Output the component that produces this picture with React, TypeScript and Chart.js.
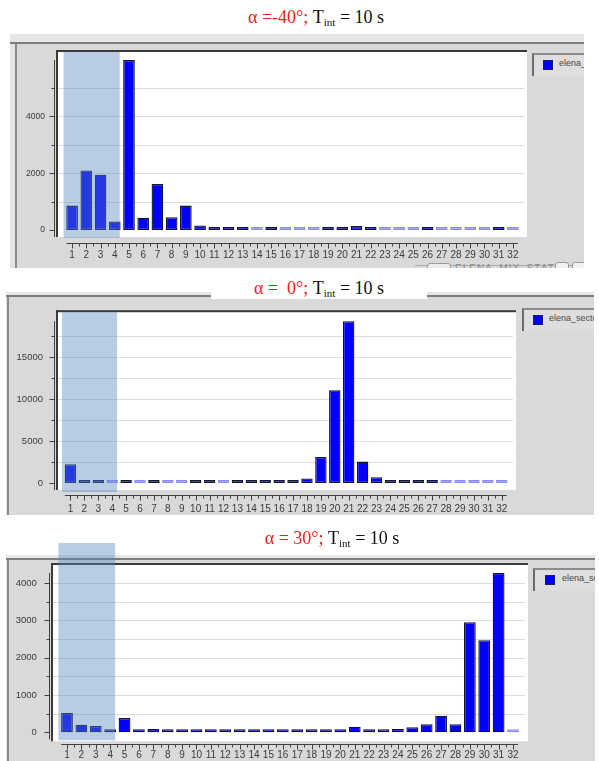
import React, { useEffect, useRef } from "react";
import { Chart, registerables } from "chart.js";

Chart.register(...registerables);

// ---------- data ----------
const SECTOR_LABELS = [
  "1", "2", "3", "4", "5", "6", "7", "8", "9", "10", "11", "12", "13", "14", "15", "16",
  "17", "18", "19", "20", "21", "22", "23", "24", "25", "26", "27", "28", "29", "30", "31", "32",
];
const SERIES_NAME = "elena_sectors";

// alpha = -40 deg
const COUNTS_M40 = [
  860, 2100, 1950, 300, 5990, 430, 1620, 450, 860, 160, 90, 40, 70, 0, 30, 0,
  0, 0, 30, 30, 140, 30, 0, 0, 0, 30, 0, 0, 0, 0, 30, 0,
];
// alpha = 0 deg
const COUNTS_0 = [
  2250, 40, 40, 0, 40, 0, 40, 0, 0, 40, 40, 0, 40, 40, 40, 200,
  300, 550, 3100, 11050, 19300, 2550, 680, 230, 230, 80, 80, 0, 0, 0, 0, 0,
];
// alpha = +30 deg
const COUNTS_P30 = [
  520, 205, 170, 10, 380, 10, 90, 10, 54, 10, 10, 10, 10, 10, 10, 10,
  10, 10, 10, 10, 150, 60, 60, 90, 135, 215, 445, 215, 2950, 2470, 4270, 0,
];

const TITLE_ANGLES = ["α =-40°;", "α =  0°;", "α = 30°;"];
const TITLE_TINT = ["T", "int", " = 10 s"];
const Y_LABEL_STEPS = [2000, 5000, 1000];
const Y_MINOR_STEPS = [1000, 2500, 500];
const HIGHLIGHT_FIRST = 0; // sector "1"
const HIGHLIGHT_LAST = 3; // sector "4"

// ---------- styles ----------
const PAGE_W = 599;
const SANS = "'Liberation Sans', Arial, sans-serif";
const SERIF = "'Liberation Serif', 'Times New Roman', serif";
const BAR_BLUE = "#0000ff";
const BAR_EDGE = "#14142a";
const EMPTY_BAR = "#8a8aff";
const SHADE = "rgba(86,134,190,0.42)";
const FRAME_GRAY = "#d9d9d9";

const PANELS = [
  {
    counts: COUNTS_M40, title: 0,
    titleX: 316, titleY: 17, titleBg: false,
    frame: { left: 10, top: 34, width: 574, height: 234, strip: 8, lineX: 5 },
    canvasTop: 30, canvasHeight: 240,
    area: { left: 65, right: 520, top: 60, bottom: 230 },
    white: { l: 8, r: 7, t: 8, b: 7 },
    shade: { t: 8, b: 8 },
    axisGap: 3, xAxisDrop: 13,
    yPad: 20, xPad: 19, yFont: 8.5, xFont: 10,
    legend: { left: 532, top: 53, sq: 11, tx: 27 },
    tab: true,
  },
  {
    counts: COUNTS_0, title: 1,
    titleX: 319, titleY: 288, titleBg: true,
    frame: { left: 6, top: 292, width: 588, height: 223, strip: 3, lineX: 1 },
    canvasTop: 295, canvasHeight: 220,
    area: { left: 63.5, right: 508.7, top: 314, bottom: 483 },
    white: { l: 6.5, r: 7.3, t: 9, b: 7 },
    shade: { t: 9, b: 9 },
    axisGap: 3, xAxisDrop: 12,
    yPad: 20.5, xPad: 20, yFont: 9.5, xFont: 10,
    legend: { left: 522, top: 308, sq: 11, tx: 27 },
    tab: false,
  },
  {
    counts: COUNTS_P30, title: 2,
    titleX: 332, titleY: 538, titleBg: false,
    frame: { left: 6, top: 555, width: 589, height: 206, strip: 3, lineX: 1 },
    canvasTop: 540, canvasHeight: 221,
    area: { left: 59.8, right: 520.2, top: 573, bottom: 733 },
    white: { l: 7.8, r: 7.8, t: 8, b: 9 },
    shade: { t: 30, b: 8 },
    axisGap: 3, xAxisDrop: 12,
    yPad: 23, xPad: 17, yFont: 9.5, xFont: 10,
    legend: { left: 533, top: 568, sq: 12, tx: 29 },
    tab: false,
  },
];

type PanelCfg = (typeof PANELS)[number];

function makeDeco(p: PanelCfg, labelStep: number, minorStep: number) {
  return {
    id: "panelDeco",
    beforeDraw(chart: any) {
      const { ctx, chartArea: a, scales } = chart;
      const x = scales.x;
      const y = scales.y;
      const wl = a.left - p.white.l;
      const wr = a.right + p.white.r;
      const wt = a.top - p.white.t;
      const wb = a.bottom + p.white.b;
      const axisX = Math.round(wl - p.axisGap) + 0.5;
      ctx.save();
      // white plot area
      ctx.fillStyle = "#ffffff";
      ctx.fillRect(wl, wt, wr - wl, wb - wt);
      // dotted grid lines on every minor step
      ctx.strokeStyle = "#bdbdbd";
      ctx.lineWidth = 1;
      ctx.setLineDash([1, 1]);
      for (let v = minorStep; v < y.max; v += minorStep) {
        const py = Math.round(y.getPixelForValue(v)) + 0.5;
        ctx.beginPath();
        ctx.moveTo(axisX, py);
        ctx.lineTo(wr - 3, py);
        ctx.stroke();
      }
      ctx.setLineDash([]);
      // inset border (top + left)
      ctx.fillStyle = "#3a3a3a";
      ctx.fillRect(wl - 1, wt - 2, wr - wl + 1, 2);
      ctx.fillRect(wl - 1, wt - 2, 2, wb - wt + 2);
      // y axis line and ticks
      ctx.strokeStyle = "#404040";
      ctx.lineWidth = 1;
      ctx.beginPath();
      ctx.moveTo(axisX, y.getPixelForValue(y.max));
      ctx.lineTo(axisX, a.bottom + 7);
      ctx.stroke();
      for (let v = 0; v <= y.max; v += minorStep) {
        const py = Math.round(y.getPixelForValue(v)) + 0.5;
        const len = Math.abs(v % labelStep) < 1e-6 ? 5 : 3;
        ctx.beginPath();
        ctx.moveTo(axisX - len, py);
        ctx.lineTo(axisX, py);
        ctx.stroke();
      }
      // x axis line and ticks
      const n = x.ticks.length;
      const w = x.getPixelForValue(1) - x.getPixelForValue(0);
      const ay = Math.round(a.bottom + p.xAxisDrop) + 0.5;
      ctx.beginPath();
      ctx.moveTo(x.getPixelForValue(0) - 0.4 * w, ay);
      ctx.lineTo(x.getPixelForValue(n - 1) + 0.35 * w, ay);
      ctx.stroke();
      for (let i = 0; i < n; i++) {
        const cx = Math.round(x.getPixelForValue(i)) + 0.5;
        ctx.beginPath();
        ctx.moveTo(cx, ay);
        ctx.lineTo(cx, ay + 5);
        ctx.stroke();
        if (i < n - 1) {
          const mx = Math.round(x.getPixelForValue(i) + w / 2) + 0.5;
          ctx.beginPath();
          ctx.moveTo(mx, ay);
          ctx.lineTo(mx, ay + 3);
          ctx.stroke();
        }
      }
      ctx.restore();
    },
    afterDatasetsDraw(chart: any) {
      const { ctx, chartArea: a, scales } = chart;
      const x = scales.x;
      const w = x.getPixelForValue(1) - x.getPixelForValue(0);
      const x0 = x.getPixelForValue(HIGHLIGHT_FIRST) - 0.6 * w;
      const x1 = x.getPixelForValue(HIGHLIGHT_LAST) + 0.35 * w;
      const y0 = a.top - p.shade.t;
      const y1 = a.bottom + p.shade.b;
      ctx.save();
      ctx.fillStyle = SHADE;
      ctx.fillRect(x0, y0, x1 - x0, y1 - y0);
      ctx.restore();
    },
  };
}

function BarPanel({ p }: { p: PanelCfg }) {
  const ref = useRef<HTMLCanvasElement | null>(null);
  useEffect(() => {
    const canvas = ref.current;
    if (!canvas) return;
    const labelStep = Y_LABEL_STEPS[p.title];
    const minorStep = Y_MINOR_STEPS[p.title];
    const a = p.area;
    const leftBand = a.left;
    const bottomBand = p.canvasTop + p.canvasHeight - a.bottom;
    const chart = new Chart(canvas, {
      type: "bar",
      data: {
        labels: SECTOR_LABELS,
        datasets: [
          {
            label: SERIES_NAME,
            data: p.counts,
            backgroundColor: (c: any) => (c.raw === 0 ? EMPTY_BAR : BAR_BLUE),
            borderColor: (c: any) => (c.raw === 0 ? EMPTY_BAR : BAR_EDGE),
            borderWidth: 1.3,
            borderSkipped: false,
            barPercentage: 0.82,
            categoryPercentage: 1,
            minBarLength: 3,
            clip: false,
          } as any,
        ],
      },
      options: {
        animation: false,
        responsive: false,
        maintainAspectRatio: false,
        devicePixelRatio: 1,
        events: [],
        layout: {
          padding: {
            left: 0,
            right: PAGE_W - a.right,
            top: a.top - p.canvasTop,
            bottom: 0,
          },
        },
        plugins: {
          legend: { display: false },
          tooltip: { enabled: false },
          title: { display: false },
        },
        scales: {
          x: {
            offset: true,
            grid: { display: false, drawTicks: false },
            border: { display: false },
            ticks: {
              autoSkip: false,
              maxRotation: 0,
              minRotation: 0,
              padding: p.xPad,
              color: "#3a3a3a",
              font: { family: SANS, size: p.xFont },
            },
            afterFit: (s: any) => {
              s.height = bottomBand;
            },
          },
          y: {
            min: 0,
            max: Math.max(...p.counts),
            grid: { display: false, drawTicks: false },
            border: { display: false },
            ticks: {
              autoSkip: false,
              padding: p.yPad,
              color: "#3a3a3a",
              font: { family: SANS, size: p.yFont },
              callback: (v: any) => String(v),
            },
            afterBuildTicks: (s: any) => {
              const t: { value: number }[] = [];
              for (let v = 0; v <= s.max; v += labelStep) t.push({ value: v });
              s.ticks = t;
            },
            afterFit: (s: any) => {
              s.width = leftBand;
            },
          },
        },
      } as any,
      plugins: [makeDeco(p, labelStep, minorStep)],
    });
    return () => chart.destroy();
  }, [p]);

  const f = p.frame;
  const lg = p.legend;
  return (
    <>
      <div
        style={{
          position: "absolute",
          left: f.left,
          top: f.top,
          width: f.width,
          height: f.height,
          background: FRAME_GRAY,
          overflow: "hidden",
        }}
      >
        <div style={{ position: "absolute", left: 0, top: 0, width: f.width, height: f.strip, background: "#e6e6e6" }} />
        <div style={{ position: "absolute", left: 0, top: f.strip, width: f.width, height: 2, background: "#7d7d7d" }} />
        <div style={{ position: "absolute", left: 0, top: f.strip + 2, width: f.lineX, height: f.height, background: "#e4e4e4" }} />
        <div style={{ position: "absolute", left: f.lineX, top: f.strip + 2, width: 2, height: f.height, background: "#8a8a8a" }} />
        <div
          style={{
            position: "absolute",
            left: lg.left - f.left,
            top: lg.top - f.top,
            width: 90,
            height: 23,
            boxSizing: "border-box",
            borderLeft: "2px solid #6a6a6a",
            borderTop: "2px solid #8c8c8c",
            background: "#dedede",
          }}
        >
          <div
            style={{
              position: "absolute",
              left: lg.sq - 2,
              top: 5,
              width: 8,
              height: 8,
              background: BAR_BLUE,
              border: "1px solid #1a1a6a",
            }}
          />
          <span
            style={{
              position: "absolute",
              left: lg.tx - 2,
              top: 3,
              fontFamily: SANS,
              fontSize: 9,
              color: "#4a4a4a",
              whiteSpace: "nowrap",
            }}
          >
            {SERIES_NAME}
          </span>
        </div>
        {p.tab ? (
          <div
            style={{
              position: "absolute",
              left: 405,
              top: f.height - 6,
              width: 170,
              height: 6,
              overflow: "hidden",
            }}
          >
            <div style={{ position: "absolute", left: 0, top: 3, width: 170, height: 1, background: "#a8a8a8" }} />
            <div style={{ position: "absolute", left: 12, top: 1, width: 22, height: 12, borderRadius: 3, border: "1px solid #9a9a9a", background: "#ececec" }} />
            <span style={{ position: "absolute", left: 40, top: 1, fontFamily: SANS, fontSize: 10, color: "#8a8a8a", letterSpacing: 1 }}>
              ELENA_MIX_STAT
            </span>
            <div style={{ position: "absolute", left: 140, top: 0, width: 12, height: 12, borderRadius: 3, border: "1px solid #9a9a9a", background: "#f2f2f2" }} />
            <div style={{ position: "absolute", left: 157, top: 0, width: 12, height: 12, borderRadius: 3, border: "1px solid #9a9a9a", background: "#f2f2f2" }} />
          </div>
        ) : null}
      </div>
      <canvas
        ref={ref}
        width={PAGE_W}
        height={p.canvasHeight}
        style={{
          position: "absolute",
          left: 0,
          top: p.canvasTop,
          width: PAGE_W,
          height: p.canvasHeight,
          display: "block",
        }}
      />
      <div
        style={{
          position: "absolute",
          left: p.titleX - 108,
          top: p.titleY - 11,
          width: 216,
          height: 22,
          lineHeight: "22px",
          textAlign: "center",
          fontFamily: SERIF,
          fontSize: 18,
          whiteSpace: "pre",
          background: p.titleBg ? "#ffffff" : "transparent",
          color: "#111",
        }}
      >
        <span style={{ color: "#ee1c1c" }}>{TITLE_ANGLES[p.title]}</span>
        {" "}
        {TITLE_TINT[0]}
        <sub style={{ fontSize: 11, verticalAlign: "-3px" }}>{TITLE_TINT[1]}</sub>
        {TITLE_TINT[2]}
      </div>
    </>
  );
}

export default function App() {
  return (
    <div
      style={{
        position: "absolute",
        left: 0,
        top: 0,
        width: PAGE_W,
        height: 761,
        background: "#ffffff",
        overflow: "hidden",
      }}
    >
      {PANELS.map((p, i) => (
        <BarPanel key={i} p={p} />
      ))}
    </div>
  );
}
